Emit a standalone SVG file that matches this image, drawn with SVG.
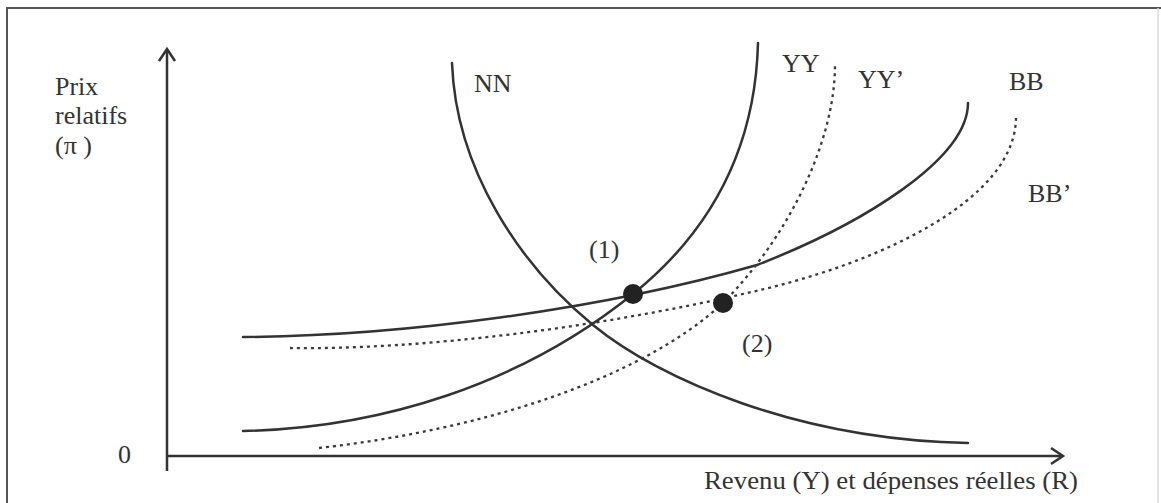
<svg xmlns="http://www.w3.org/2000/svg" width="1161" height="503" viewBox="0 0 1161 503">
<style>
.t{font-family:"Liberation Serif","Times New Roman",serif;font-size:26px;fill:#333}
.solid{fill:none;stroke:#333;stroke-width:2.5;stroke-linecap:round}
.dot{fill:none;stroke:#3a3a3a;stroke-width:2.3;stroke-dasharray:3 4}
.ax{fill:none;stroke:#333;stroke-width:2.5}
</style>
<rect width="1161" height="503" fill="#fff"/>
<g id="frame">
<path d="M7,503 V8 H1161" fill="none" stroke="#555" stroke-width="2"/>
<path d="M1158,8 V503" fill="none" stroke="#ddd" stroke-width="1.5"/>
</g>
<g id="axes">
<path class="ax" d="M167,471 V49"/>
<path class="ax" d="M159,61 L167,49 L175,61"/>
<path class="ax" d="M167,456 H1062"/>
<path class="ax" d="M1051,448 L1063,456 L1051,464"/>
<text class="t" x="55" y="95" font-size="27">Prix</text>
<text class="t" x="55" y="124" font-size="27">relatifs</text>
<text class="t" x="55" y="154" font-size="27">(π )</text>
<text class="t" x="118" y="463">0</text>
<text class="t" x="704" y="489" textLength="374" lengthAdjust="spacingAndGlyphs">Revenu (Y) et dépenses réelles (R)</text>
</g>
<g id="curves">
<g id="NN">
<path class="solid" d="M452,63 C456,170 520,265 593,325 C660,380 800,440 968,443"/>
<text class="t" x="474" y="92">NN</text>
</g>
<g id="BB">
<path class="solid" d="M243,337 C400,336 600,310 757,265 C860,225 968,160 968,103"/>
<text class="t" x="1009" y="90">BB</text>
</g>
<g id="BBp">
<path class="dot" d="M290,348 C420,350 600,328 760,290 C880,262 1016,200 1016,117"/>
<text class="t" x="1028" y="202">BB’</text>
</g>
<g id="YY">
<path class="solid" d="M243,431 C380,428 520,385 633,294 C700,240 755,160 758,43"/>
<text class="t" x="782" y="72">YY</text>
</g>
<g id="YYp">
<path class="dot" d="M319,448 C480,430 640,380 723,303 C790,235 835,140 835,65"/>
<text class="t" x="858" y="88">YY’</text>
</g>
</g>
<g id="eq1">
<circle cx="633" cy="294" r="10" fill="#222"/>
<text class="t" x="589" y="258">(1)</text>
</g>
<g id="eq2">
<circle cx="723" cy="303" r="10" fill="#222"/>
<text class="t" x="742" y="352">(2)</text>
</g>
</svg>
